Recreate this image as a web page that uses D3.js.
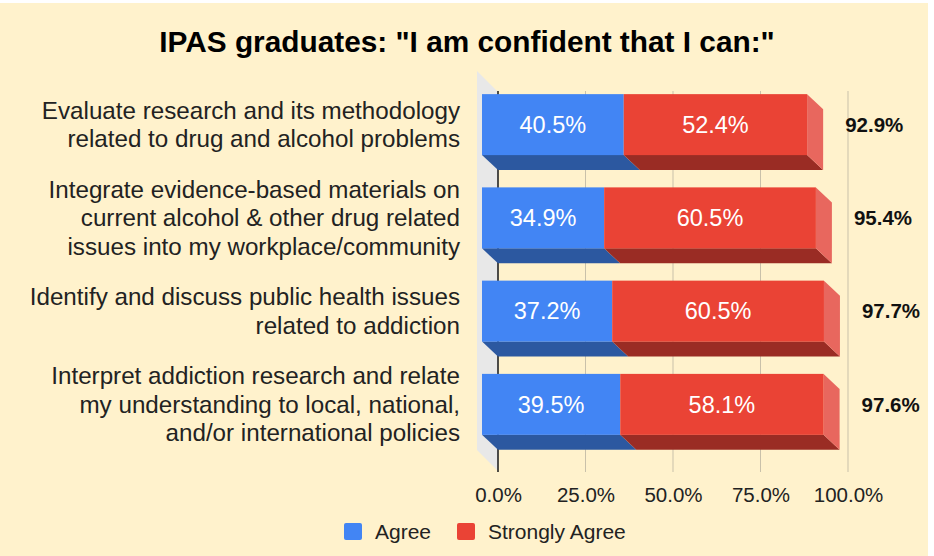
<!DOCTYPE html>
<html>
<head>
<meta charset="utf-8">
<script src="https://cdn.jsdelivr.net/npm/d3@7"></script>
<style>
  html, body { margin: 0; padding: 0; background: #ffffff; }
  svg { display: block; }
</style>
</head>
<body>
<svg id="chart" width="934" height="556"></svg>
<script>
// ---------- data ----------
const title = 'IPAS graduates: "I am confident that I can:"';
const categories = [
  ["Evaluate research and its methodology", "related to drug and alcohol problems"],
  ["Integrate evidence-based materials on", "current alcohol & other drug related", "issues into my workplace/community"],
  ["Identify and discuss public health issues", "related to addiction"],
  ["Interpret addiction research and relate", "my understanding to local, national,", "and/or international policies"]
];
const seriesNames = ["Agree", "Strongly Agree"];
const agree = [40.5, 34.9, 37.2, 39.5];
const stronglyAgree = [52.4, 60.5, 60.5, 58.1];
const totals = [92.9, 95.4, 97.7, 97.6];
const tickValues = [0, 25, 50, 75, 100];
const tickLabels = ["0.0%", "25.0%", "50.0%", "75.0%", "100.0%"];

// ---------- style ----------
const FONT = "Arial, 'Liberation Sans', Helvetica, sans-serif";
const colors = {
  front: ["#4285F4", "#EA4335"],
  bottom: ["#2C58A0", "#9A2C24"],
  side: ["#3A72D0", "#E8675E"]
};
const DX = 16, DY = 15;     // bar depth offset (front is up-left of back plane)
const WX = 21, WY = 21;     // wall depth

const svg = d3.select("#chart");
svg.append("rect").attr("x", 0).attr("y", 3).attr("width", 928).attr("height", 553).attr("fill", "#FFF2CC");

const x = d3.scaleLinear().domain([0, 100]).range([498, 848]);
const y = d3.scaleBand().domain(d3.range(categories.length)).range([93, 466])
  .paddingInner(0.346).paddingOuter(0.173);
const plotTop = 91, plotBottom = 472;

// title
svg.append("text").attr("x", 467).attr("y", 52).attr("text-anchor", "middle")
  .attr("font-family", FONT).attr("font-weight", "bold").attr("font-size", 29.8)
  .attr("fill", "#000").text(title);

// left wall
const wx = x(0);
svg.append("polygon")
  .attr("points", [[wx, plotTop + 1], [wx, plotBottom - 1], [wx - WX, plotBottom - 1 - WY], [wx - WX, plotTop + 1 - WY]].map(p => p.join(",")).join(" "))
  .attr("fill", "#E8E8E8");

// gridlines
svg.append("g").selectAll("line").data(tickValues.filter(v => v > 0)).join("line")
  .attr("x1", d => x(d)).attr("x2", d => x(d))
  .attr("y1", plotTop).attr("y2", plotBottom)
  .attr("stroke", "#C9C1AA").attr("stroke-width", 1);
svg.append("line").attr("x1", x(0)).attr("x2", x(0)).attr("y1", plotTop).attr("y2", plotBottom)
  .attr("stroke", "#222").attr("stroke-width", 1.6);

// x axis labels
const axis = d3.axisBottom(x).tickValues(tickValues).tickFormat((d, i) => tickLabels[i])
  .tickSize(0).tickPadding(15.5);
const ag = svg.append("g").attr("transform", `translate(0,${plotBottom})`).call(axis);
ag.select(".domain").remove();
ag.selectAll("text").attr("font-family", FONT).attr("font-size", 20.5).attr("fill", "#222");

// bars
const stacks = categories.map((c, i) => {
  const segs = [];
  let acc = 0;
  [agree[i], stronglyAgree[i]].forEach((v, s) => { segs.push({ s, v, x0: acc, x1: acc + v }); acc += v; });
  return { i, segs };
});

const poly = pts => pts.map(p => p.join(",")).join(" ");
const bars = svg.append("g");
stacks.forEach(st => {
  const yb = y(st.i), h = y.bandwidth();
  const g = bars.append("g");
  const yFt = yb - DY, yFb = yb - DY + h;
  // bottom faces
  g.selectAll("polygon.bottom").data(st.segs).join("polygon").attr("class", "bottom")
    .attr("points", d => poly([[x(d.x0) - DX, yFb], [x(d.x1) - DX, yFb], [x(d.x1), yFb + DY], [x(d.x0), yFb + DY]]))
    .attr("fill", d => colors.bottom[d.s]);
  // right side of last segment
  const last = st.segs[st.segs.length - 1];
  g.append("polygon")
    .attr("points", poly([[x(last.x1) - DX, yFt], [x(last.x1), yFt + DY], [x(last.x1), yFb + DY], [x(last.x1) - DX, yFb]]))
    .attr("fill", colors.side[last.s]);
  // front faces
  g.selectAll("rect.front").data(st.segs).join("rect").attr("class", "front")
    .attr("x", d => x(d.x0) - DX).attr("y", yFt)
    .attr("width", d => x(d.x1) - x(d.x0)).attr("height", h)
    .attr("fill", d => colors.front[d.s]);
  // value labels
  g.selectAll("text.val").data(st.segs).join("text").attr("class", "val")
    .attr("x", d => (x(d.x0) + x(d.x1)) / 2 - DX).attr("y", yFt + h / 2).attr("dy", "0.35em")
    .attr("text-anchor", "middle").attr("font-family", FONT).attr("font-size", 23.5)
    .attr("fill", "#fff").text(d => d.v.toFixed(1) + "%");
  // total label
  g.append("text").attr("x", x(totals[st.i]) + 22).attr("y", yFt + h / 2).attr("dy", "0.35em")
    .attr("font-family", FONT).attr("font-weight", "bold").attr("font-size", 20.5)
    .attr("fill", "#111").text(totals[st.i].toFixed(1) + "%");
  // category label
  const lines = categories[st.i];
  const lh = 28.5;
  const cy = yFt + h / 2;
  const t = g.append("text").attr("text-anchor", "end").attr("font-family", FONT)
    .attr("font-size", 24.2).attr("fill", "#222");
  lines.forEach((ln, k) => {
    t.append("tspan").attr("x", 460)
      .attr("y", cy + (k - (lines.length - 1) / 2) * lh).attr("dy", "0.35em").text(ln);
  });
});

// legend
const legendX = [344, 457];
const lg = svg.append("g");
seriesNames.forEach((name, s) => {
  lg.append("rect").attr("x", legendX[s]).attr("y", 523).attr("width", 18).attr("height", 17)
    .attr("rx", 2).attr("fill", colors.front[s]);
  lg.append("text").attr("x", legendX[s] + 31).attr("y", 539).attr("font-family", FONT)
    .attr("font-size", 21).attr("fill", "#222").text(name);
});
</script>
</body>
</html>
